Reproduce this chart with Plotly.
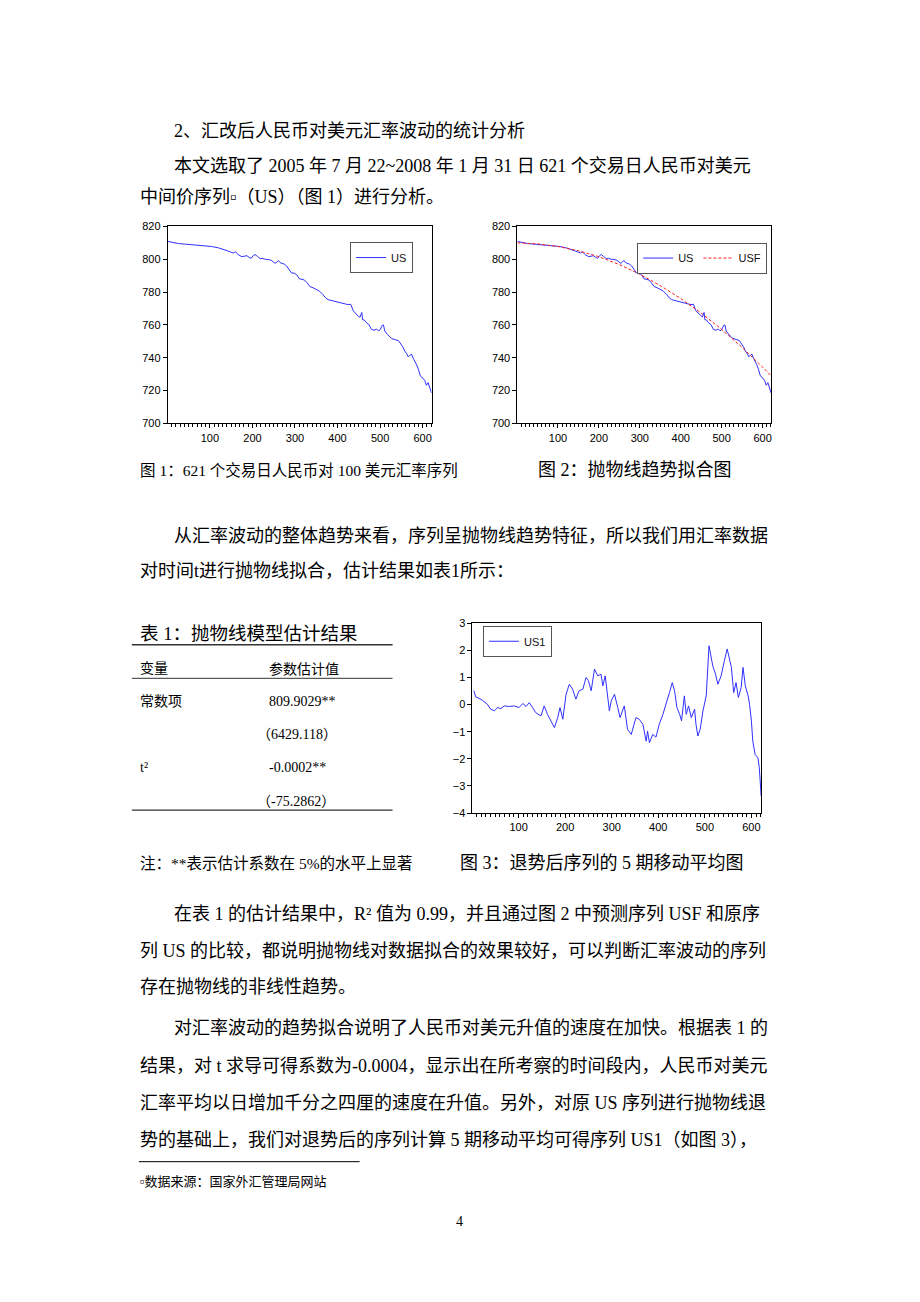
import plotly.graph_objects as go

# ---------------- data ----------------
us_t = [1, 12, 26, 40, 57, 73, 89, 104, 120, 133, 143, 150, 155, 160, 168, 175, 181, 187, 192, 197,
        202, 206, 212, 218, 224, 230, 237, 244, 249, 253, 257, 261, 265, 269, 275, 280, 286, 292, 298,
        304, 310, 316, 322, 328, 335, 343, 351, 358, 366, 372, 378, 386, 394, 402, 410, 418, 425, 431,
        437, 443, 449, 453, 457, 459, 463, 468, 474, 480, 486, 492, 496, 500, 505, 508, 511, 517, 522,
        527, 535, 543, 549, 554, 558, 562, 566, 570, 574, 578, 582, 586, 590, 594, 598, 601, 605, 609,
        613, 617, 621]
us_v = [810.9, 810.3, 809.6, 809.3, 808.9, 808.7, 808.3, 807.8, 807.0, 806.1, 805.0, 804.3, 803.9, 804.5,
        802.6, 801.6, 802.0, 802.2, 801.2, 800.6, 802.3, 802.9, 801.7, 800.4, 800.6, 800.0, 799.9, 799.4,
        798.4, 797.6, 798.2, 799.3, 798.0, 797.6, 797.0, 796.0, 793.9, 791.6, 791.6, 790.6, 788.2, 787.6,
        787.4, 785.8, 783.4, 782.6, 781.3, 780.5, 778.4, 776.5, 775.4, 774.8, 774.3, 773.6, 773.2, 772.8,
        772.4, 772.6, 768.6, 767.0, 765.2, 764.8, 767.6, 763.2, 763.0, 761.3, 760.1, 757.2, 756.8, 757.5,
        756.4, 757.0, 759.7, 760.0, 756.3, 754.3, 752.9, 751.8, 751.0, 750.5, 748.3, 746.4, 744.0, 742.8,
        740.6, 741.3, 742.2, 739.6, 737.8, 735.6, 733.0, 729.4, 728.0, 727.5, 726.1, 723.2, 724.8, 721.0,
        718.5]

usf_t = [1, 50, 100, 150, 200, 250, 300, 350, 400, 450, 500, 550, 600, 621]
usf_v = [810.0, 809.4, 807.8, 805.2, 801.6, 796.8, 790.9, 784.0, 776.1, 767.2, 757.3, 746.3, 734.3, 729.0]

us1_t = [4, 8, 15, 22, 33, 40, 48, 55, 62, 69, 80, 91, 101, 109, 116, 123, 130, 137, 148, 155, 162,
         169, 177, 184, 189, 195, 202, 209, 216, 223, 230, 238, 245, 250, 256, 263, 270, 277, 281, 286,
         291, 295, 299, 306, 313, 318, 327, 334, 342, 347, 352, 359, 367, 374, 377, 381, 388, 395, 402,
         410, 417, 424, 430, 435, 440, 446, 450, 456, 460, 465, 471, 478, 481, 485, 490, 496, 503, 509,
         517, 523, 528, 535, 542, 548, 557, 562, 567, 572, 578, 582, 587, 593, 596, 600, 603, 608, 614,
         617, 621]
us1_v = [0.51, 0.28, 0.23, 0.16, 0.01, -0.17, -0.23, -0.11, -0.15, -0.05, -0.07, -0.05, -0.11, 0.04,
         -0.07, 0.07, -0.11, -0.30, -0.42, -0.05, -0.36, -0.60, -0.85, -0.48, -0.11, -0.54, 0.38, 0.75,
         0.57, 0.20, 0.51, 0.57, 1.00, 0.88, 0.51, 1.31, 1.06, 1.12, 0.69, 1.06, 0.38, -0.23, 0.14, 0.38,
         -0.11, -0.48, -0.05, -0.91, -1.10, -0.73, -0.48, -0.54, -0.73, -1.35, -0.98, -1.41, -1.10, -1.20,
         -0.73, -0.36, 0.01, 0.44, 0.81, 0.51, -0.11, -0.36, -0.60, 0.32, -0.36, -0.05, -0.48, -0.17,
         -0.73, -1.16, -0.91, -0.23, 0.32, 2.17, 1.43, 1.12, 0.75, 1.06, 1.62, 2.05, 1.37, 0.44, 0.81,
         0.26, 0.63, 1.37, 0.69, 0.32, 0.01, -0.60, -1.35, -1.84, -1.96, -2.33, -3.38]

x_ticks = [100, 200, 300, 400, 500, 600]
y_ticks_level = [700, 720, 740, 760, 780, 800, 820]
y_ticks_us1 = [-4, -3, -2, -1, 0, 1, 2, 3]

# ---------------- page geometry ----------------
W, H = 920, 1302
Y_SCALE, Y_OFF = 0.989, 6.4   # compensates the vertical mapping observed in the rendered page


def px(x):
    return x / W


def py(y):
    return 1 - ((y - Y_OFF) / Y_SCALE) / H


BLUE = "#3030ff"
RED = "#ff2020"
TICKFONT = dict(family="Liberation Sans, Arial, sans-serif", size=11, color="#000")
TXT = "Liberation Serif, Noto Sans CJK SC, serif"

fig = go.Figure()

fig.add_trace(go.Scatter(x=us_t, y=us_v, mode="lines", name="US", xaxis="x", yaxis="y",
                         line=dict(color=BLUE, width=1), legend="legend"))
fig.add_trace(go.Scatter(x=us_t, y=us_v, mode="lines", name="US", xaxis="x2", yaxis="y2",
                         line=dict(color=BLUE, width=1), legend="legend2"))
fig.add_trace(go.Scatter(x=usf_t, y=usf_v, mode="lines", name="USF", xaxis="x2", yaxis="y2",
                         line=dict(color=RED, width=1, dash="3px,2px"), legend="legend2"))
fig.add_trace(go.Scatter(x=us1_t, y=us1_v, mode="lines", name="US1", xaxis="x3", yaxis="y3",
                         line=dict(color=BLUE, width=1), legend="legend3"))


def xaxis(domain, anchor):
    return dict(domain=domain, anchor=anchor, range=[1, 621], tickvals=x_ticks,
                ticks="outside", ticklen=4, tickcolor="#000", showline=True, linecolor="#000",
                linewidth=1, mirror=True, showgrid=False, zeroline=False, tickfont=TICKFONT,
                minor=dict(ticks="outside", dtick=10, tick0=0, ticklen=3, tickcolor="#000",
                           showgrid=False))


def yaxis(domain, anchor, rng, vals):
    return dict(domain=domain, anchor=anchor, range=rng, tickvals=vals,
                ticks="outside", ticklen=4, tickcolor="#000", showline=True, linecolor="#000",
                linewidth=1, mirror=True, showgrid=False, zeroline=False, tickfont=TICKFONT)


legend_common = dict(bgcolor="white", bordercolor="#555", borderwidth=1,
                     font=dict(family="Liberation Sans, Arial, sans-serif", size=11, color="#111"),
                     itemwidth=30, tracegroupgap=0, yanchor="middle")

fig.update_layout(
    width=W, height=H, margin=dict(l=0, r=0, t=0, b=0),
    paper_bgcolor="white", plot_bgcolor="white", showlegend=True,
    xaxis=xaxis([px(168), px(432)], "y"),
    yaxis=yaxis([py(423), py(226.5)], "x", [700, 820], y_ticks_level),
    xaxis2=xaxis([px(518), px(772)], "y2"),
    yaxis2=yaxis([py(423), py(226.5)], "x2", [700, 820], y_ticks_level),
    xaxis3=xaxis([px(473), px(762)], "y3"),
    yaxis3=yaxis([py(812), py(622.5)], "x3", [-4, 3], y_ticks_us1),
    legend=dict(legend_common, x=px(382), xanchor="center", y=py(257.5), orientation="v"),
    legend2=dict(legend_common, x=px(768), xanchor="right", y=py(258), orientation="h"),
    legend3=dict(legend_common, x=px(518), xanchor="center", y=py(640.5), orientation="v"),
)

annotations = []


def text(x, y, s, size=18, anchor="left"):
    annotations.append(dict(x=px(x), y=py(y), xref="paper", yref="paper", text=s,
                            showarrow=False, xanchor=anchor, yanchor="middle",
                            font=dict(family=TXT, size=size, color="#000")))


BOX = "▫"

text(172, 131, "2、汇改后人民币对美元汇率波动的统计分析")
text(172, 166, "本文选取了 2005 年 7 月 22~2008 年 1 月 31 日 621 个交易日人民币对美元")
text(138, 197, "中间价序列" + BOX + "（US）（图 1）进行分析。")

text(138, 470, "图 1：621 个交易日人民币对 100 美元汇率序列", size=15.5)
text(537, 470, "图 2：抛物线趋势拟合图", size=18)

text(172, 535, "从汇率波动的整体趋势来看，序列呈抛物线趋势特征，所以我们用汇率数据")
text(138, 570, "对时间t进行抛物线拟合，估计结果如表1所示：")

# table 1
text(138, 633, "表 1：抛物线模型估计结果", size=18.5)
text(138, 668, "变量", size=14)
text(267, 668, "参数估计值", size=14)
text(138, 701, "常数项", size=14)
text(267, 701, "809.9029**", size=14)
text(255, 734, "（6429.118）", size=14)
text(138, 767, "t²", size=14)
text(267, 767, "-0.0002**", size=14)
text(255, 800, "（-75.2862）", size=14)

text(138, 862, "注：**表示估计系数在 5%的水平上显著", size=15.5)
text(458, 862, "图 3：退势后序列的 5 期移动平均图", size=18)

text(172, 913, "在表 1 的估计结果中，R² 值为 0.99，并且通过图 2 中预测序列 USF 和原序")
text(138, 950, "列 US 的比较，都说明抛物线对数据拟合的效果较好，可以判断汇率波动的序列")
text(138, 986, "存在抛物线的非线性趋势。")
text(172, 1027, "对汇率波动的趋势拟合说明了人民币对美元升值的速度在加快。根据表 1 的")
text(138, 1064, "结果，对 t 求导可得系数为-0.0004，显示出在所考察的时间段内，人民币对美元")
text(138, 1101, "汇率平均以日增加千分之四厘的速度在升值。另外，对原 US 序列进行抛物线退")
text(138, 1138, "势的基础上，我们对退势后的序列计算 5 期移动平均可得序列 US1（如图 3），")

text(138, 1180, BOX + "数据来源：国家外汇管理局网站", size=13)
text(460, 1220, "4", size=14, anchor="center")

fig.update_layout(annotations=annotations)

shapes = []
for y, w in [(644, 1.3), (677.5, 1.0), (809, 1.3)]:
    shapes.append(dict(type="line", xref="paper", yref="paper", x0=px(132), x1=px(393),
                       y0=py(y), y1=py(y), line=dict(color="#333", width=w)))
shapes.append(dict(type="line", xref="paper", yref="paper", x0=px(139), x1=px(360),
                   y0=py(1160), y1=py(1160), line=dict(color="#000", width=1)))
fig.update_layout(shapes=shapes)

fig.write_html("out.html", config={"displayModeBar": False},
               post_script="document.body.style.margin='0px';document.body.style.overflow='hidden';")
